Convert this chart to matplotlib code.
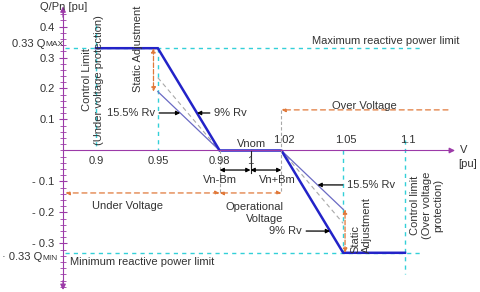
import numpy as np
import matplotlib
matplotlib.use("Agg")
import matplotlib.pyplot as plt
from matplotlib.ticker import FixedLocator

plt.rcParams['font.family'] = ['Liberation Sans', 'DejaVu Sans']
plt.rcParams['font.size'] = 8

""" Data """
# voltage knots of the schematic (non-linear) x axis and their slot positions
v_knots = [0.8, 0.9, 0.95, 0.98, 1.0, 1.02, 1.05, 1.1, 1.2]
p_knots = [-2, 0, 1, 2, 2.5, 3, 4, 5, 7]

# 9% Rv characteristic (thick)
v_9 = [0.9, 0.95, 0.98, 1.02, 1.05, 1.1]
q_9 = [0.33, 0.33, 0.0, 0.0, -0.33, -0.33]
# 15.5% Rv characteristic (thin)
v_155_lo, q_155_lo = [0.95, 0.98], [0.19, 0.0]
v_155_hi, q_155_hi = [1.02, 1.05], [0.0, -0.19]
# intermediate droop (grey dashed)
v_mid_lo, q_mid_lo = [0.95, 0.98], [0.235, 0.0]
v_mid_hi, q_mid_hi = [1.02, 1.05], [0.0, -0.235]

q_max, q_min = 0.33, -0.33
x_ticks = [0.9, 0.95, 0.98, 1.0, 1.02, 1.05, 1.1]
x_labels = ['0.9', '0.95', '0.98', '1', '1.02', '1.05', '1.1']
x_above = [False, False, False, False, True, True, True]
y_ticks = [-0.3, -0.2, -0.1, 0.1, 0.2, 0.3, 0.4]
y_labels = ['- 0.3', '- 0.2', '- 0.1', '0.1', '0.2', '0.3', '0.4']

PURPLE = '#9c3aa8'
CYAN = '#33d0d8'
BLUE = '#2323c8'
LBLUE = '#6a6ac4'
ORANGE = '#e0793a'
GREY = '#a8a8a8'
TXT = '#333333'

fwd = lambda v: np.interp(v, v_knots, p_knots)
inv = lambda p: np.interp(p, p_knots, v_knots)

fig = plt.figure(figsize=(4.8, 2.92), dpi=100)
ax = fig.add_axes([0, 0, 1, 1])
ax.set_xscale('function', functions=(fwd, inv))
ax.set_xlim(0.8223, 1.1607)
ax.set_ylim(-0.4565, 0.4855)
ax.patch.set_visible(False)

x0 = 0.8733   # y axis position
xr = 1.1405   # end of x axis
for s in ['top', 'right']:
    ax.spines[s].set_visible(False)
ax.spines['left'].set_position(('data', x0))
ax.spines['left'].set_bounds(-0.44, 0.455)
ax.spines['left'].set_color(PURPLE)
ax.spines['bottom'].set_position(('data', 0))
ax.spines['bottom'].set_bounds(x0, xr - 0.004)
ax.spines['bottom'].set_color(PURPLE)
ax.set_xticks([])
ax.set_yticks(y_ticks, y_labels, color=TXT)
ax.yaxis.set_minor_locator(FixedLocator(np.arange(-0.44, 0.45, 0.02)))
ax.tick_params(axis='y', which='major', direction='inout', length=6, width=0.8, color=PURPLE, pad=3)
ax.tick_params(axis='y', which='minor', direction='inout', length=4, width=0.6, color=PURPLE)

def arrow(xy, xytext, style='-|>', color='k', lw=0.9, ls='-', coords='data', ms=7):
    ax.annotate('', xy=xy, xytext=xytext, xycoords=coords, textcoords=coords,
                arrowprops=dict(arrowstyle=style, color=color, lw=lw, ls=ls,
                                shrinkA=0, shrinkB=0, mutation_scale=ms))

# axis arrow heads
arrow((x0, 0.465), (x0, 0.43), color=PURPLE, ms=8)
arrow((x0, -0.45), (x0, -0.42), color=PURPLE, ms=8)
arrow((xr, 0), (xr - 0.005, 0), color=PURPLE, ms=8)

# cyan limits
ax.plot([x0 + 0.002, 1.1146], [q_max, q_max], color=CYAN, lw=1, ls=(0, (3, 3)))
ax.plot([x0 + 0.002, 1.1146], [q_min, q_min], color=CYAN, lw=1, ls=(0, (3, 3)))
ax.plot([0.9, 0.9], [0.405, 0], color=CYAN, lw=1, ls=(0, (3, 3)))
ax.plot([0.95, 0.95], [q_max, 0], color=CYAN, lw=1, ls=(0, (3, 3)))
ax.plot([1.05, 1.05], [0, q_min], color=CYAN, lw=1, ls=(0, (3, 3)))
ax.plot([1.1, 1.1], [0.034, -0.40], color=CYAN, lw=1, ls=(0, (3, 3)))

# characteristics
ax.plot(v_mid_lo, q_mid_lo, color=GREY, lw=0.8, ls=(0, (4, 3)))
ax.plot(v_mid_hi, q_mid_hi, color=GREY, lw=0.8, ls=(0, (4, 3)))
ax.plot(v_155_lo, q_155_lo, color=LBLUE, lw=0.9)
ax.plot(v_155_hi, q_155_hi, color=LBLUE, lw=0.9)
ax.plot(v_9, q_9, color=BLUE, lw=1.8, solid_joinstyle='miter')

# static adjustment arrows
arrow((0.9465, q_155_lo[0]), (0.9465, q_max), style='<|-|>', color=ORANGE, ls='--', lw=0.9, ms=6)
arrow((1.0515, q_155_hi[1]), (1.0515, q_min), style='<|-|>', color=ORANGE, ls='--', lw=0.9, ms=6)

# voltage bands
q_band, q_over = -0.137, 0.131
arrow((x0 + 0.002, q_band), (0.98, q_band), style='<|-|>', color=ORANGE, ls=(0, (4, 3)), lw=0.9, ms=6)
arrow((0.98, q_band), (1.02, q_band), style='<|-|>', color=ORANGE, ls=(0, (4, 3)), lw=0.9, ms=6)
arrow((1.02, q_over), (1.1348, q_over), color=ORANGE, ls=(0, (4, 3)), lw=0.9, ms=6)
ax.plot([1.02, 1.02], [q_over, q_band], color=GREY, lw=0.8, ls=(0, (3, 2)))
ax.plot([0.98, 0.98], [0, q_band], color=GREY, lw=0.8, ls=(0, (3, 2)))

# Vn +- Bm
q_dim = -0.063
ax.plot([1.0, 1.0], [0, q_dim - 0.008], color='#222222', lw=0.8)
arrow((0.98, q_dim), (1.0, q_dim), style='<|-|>', ms=6)
arrow((1.0, q_dim), (1.02, q_dim), style='<|-|>', ms=6)

# x tick labels
for v, lab, up in zip(x_ticks, x_labels, x_above):
    ax.annotate(lab, (v, 0), xytext=(2 if up else 0, 4 if up else -4), textcoords='offset points',
                ha='center', va='bottom' if up else 'top', color=TXT)

H = 292
def label(x, y, s, **kw):
    kw.setdefault('color', TXT)
    kw.setdefault('va', 'center')
    ax.annotate(s, (x, H - y), xycoords='figure pixels', **kw)

label(64, 7, 'Q/Pn [pu]', ha='center')
label(45, 44, '0.33 Q', ha='right')
label(45, 45, 'MAX', ha='left', fontsize=6)
label(42, 257, '· 0.33 Q', ha='right')
label(42, 258, 'MIN', ha='left', fontsize=6)
label(460, 150, 'V', ha='left')
label(468, 164, '[pu]', ha='center')
label(252, 144, 'Vnom', ha='center')
label(220, 180, 'Vn-Bm', ha='center')
label(277, 180, 'Vn+Bm', ha='center')
label(312, 41, 'Maximum reactive power limit', ha='left')
label(70, 262, 'Minimum reactive power limit', ha='left')
label(128, 206, 'Under Voltage', ha='center')
label(283, 213, 'Operational\nVoltage', ha='right', multialignment='right')
label(364, 106, 'Over Voltage', ha='center')
label(138, 49, 'Static Adjustment', ha='center', rotation=90)
label(93, 80, 'Control Limit\n(Under voltage protection)', ha='center', rotation=90,
      multialignment='center')
label(361, 253, 'Static\nAdjustment', ha='center', va='bottom', rotation=90,
      multialignment='left')
label(427, 205, 'Control limit\n(Over voltage\nprotection)', ha='center', rotation=90,
      multialignment='center')

# Rv labels with pointers
def rv(s, q, v_seg, q_seg, x, y, ha):
    tip = np.interp(q, sorted(q_seg), [v for _, v in sorted(zip(q_seg, v_seg))])
    ax.annotate(s, (tip, q), xytext=(x, H - y), textcoords='figure pixels', ha=ha, va='center',
                color=TXT, arrowprops=dict(arrowstyle='-|>', color='k', lw=0.9, shrinkA=1,
                                           shrinkB=0, mutation_scale=6))

rv('15.5% Rv', 0.121, v_155_lo, q_155_lo, 155, 113, 'right')
rv('9% Rv', 0.121, v_9[1:3], q_9[1:3], 214, 113, 'left')
rv('15.5% Rv', -0.111, v_155_hi, q_155_hi, 347, 185, 'left')
rv('9% Rv', -0.26, v_9[3:5], q_9[3:5], 302, 231, 'right')

fig.savefig('out.png', dpi=100)
